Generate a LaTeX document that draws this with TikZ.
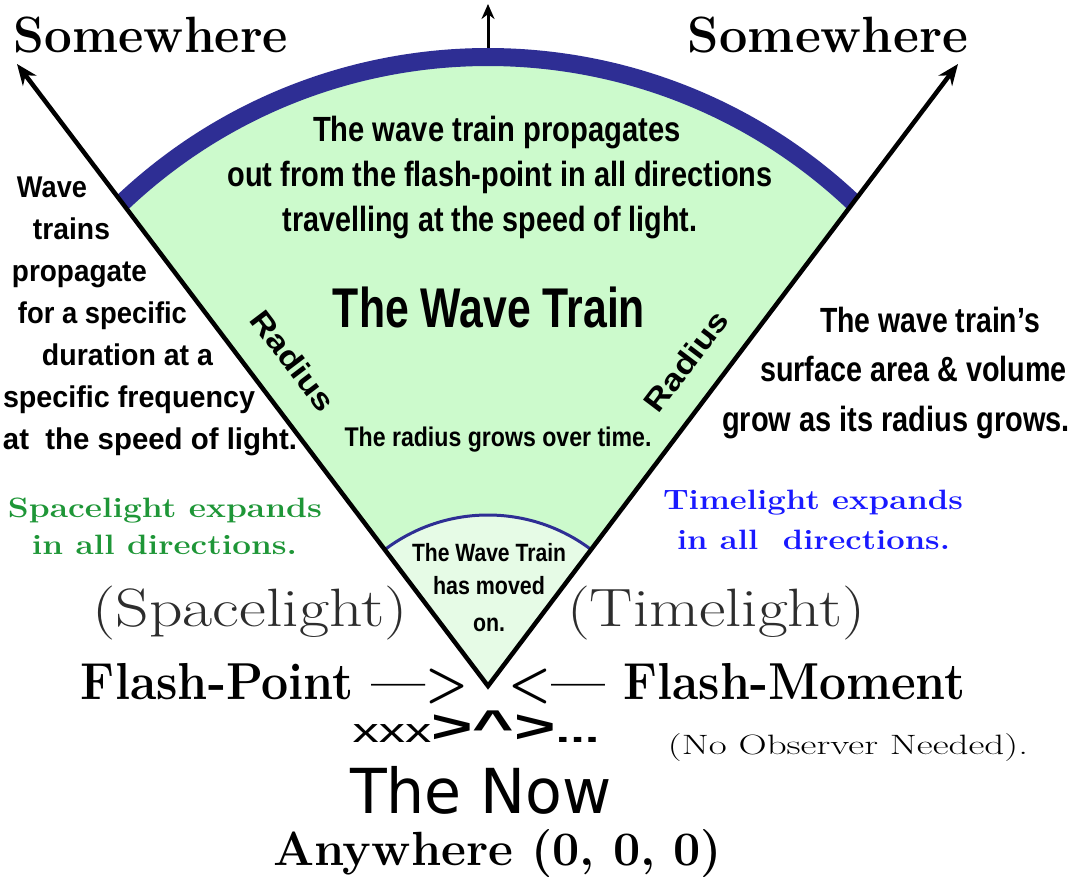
\documentclass[tikz,border=0pt]{standalone}
\usepackage{fontspec}
\usepackage{graphicx}
\usetikzlibrary{arrows.meta}
\newfontfamily\condf{Liberation Sans}
\newfontfamily\nowf{DejaVu Sans}
\definecolor{wedge}{RGB}{204,250,204}
\definecolor{wedgein}{RGB}{230,251,230}
\definecolor{arcblue}{RGB}{46,46,148}
\definecolor{spgreen}{RGB}{30,150,55}
\definecolor{tlblue}{RGB}{25,25,255}
\definecolor{parengray}{RGB}{45,45,45}
\newcommand{\fs}[1]{\fontsize{#1}{#1}\selectfont}
\newcommand{\fw}[2]{\resizebox{#1pt}{\height}{#2}}
\begin{document}
\begin{tikzpicture}[x=1pt,y=1pt,
  lbl/.style={inner sep=0pt, outer sep=0pt, anchor=base},
  cond/.style={lbl, font=\condf\bfseries\fs{#1}},
  serifb/.style={lbl, font=\bfseries\fs{#1}},
  serifr/.style={lbl, font=\fs{#1}},
  cone/.style={line width=4.5pt, line join=miter, {Stealth[length=21pt,width=17pt]}-{Stealth[length=21pt,width=17pt]}},
  uparrow/.style={line width=3pt, -{Stealth[length=15pt,width=13pt]}},
  bigarc/.style={arcblue, line width=18pt},
  smallarc/.style={arcblue, line width=3pt}]
\fill[white] (0,0) rectangle (1073,886);
\useasboundingbox (0,0) rectangle (1073,886);
% geometry
\coordinate (apex) at (488,200);
\coordinate (ltip) at (17,822);
\coordinate (rtip) at (958,822);
\coordinate (arcL) at (121.8,682.9);
\coordinate (arcTop) at (488,838);
\coordinate (upTip) at (488,882);
% wedge
\fill[wedge] (apex) -- (arcL) arc[start angle=133.5, end angle=46.5, radius=532] -- cycle;
\fill[wedgein] (apex) -- ++(127.14:171) arc[start angle=127.14, end angle=52.86, radius=171] -- cycle;
\draw[smallarc] (apex) ++(127.14:171) arc[start angle=127.14, end angle=52.86, radius=171];
\draw[bigarc] (arcL) arc[start angle=133.5, end angle=46.5, radius=532];
\draw[cone] (ltip) -- (apex) -- (rtip);
\draw[uparrow] (arcTop) -- (upTip);
% Somewhere
\node[serifb=51] (swL) at (151,833) {\fw{274}{Somewhere}};
\node[serifb=51] (swR) at (828,833) {\fw{280}{Somewhere}};
% top paragraph
\node[cond=35] (top1) at (497,744) {\fw{368}{The wave train propagates}};
\node[cond=35] (top2) at (500,699) {\fw{545}{out from the flash-point in all directions}};
\node[cond=35] (top3) at (490,654) {\fw{415}{travelling at the speed of light.}};
\node[cond=56] (wt) at (489,558) {\fw{312}{The Wave Train}};
\node[cond=30, anchor=center, rotate=-52.86] (radL) at (293,525) {\fw{118}{Radius}};
\node[cond=30, anchor=center, rotate=52.86] (radR) at (686,525) {\fw{118}{Radius}};
\node[cond=27] (grows) at (498,439) {\fw{307}{The radius grows over time.}};
\node[cond=25] (mv1) at (489,324) {\fw{154}{The Wave Train}};
\node[cond=25] (mv2) at (489,291) {\fw{112}{has moved}};
\node[cond=25] (mv3) at (489,254) {\fw{32}{on.}};
% left paragraph
\node[cond=30] (lp1) at (52,688) {\fw{70}{Wave}};
\node[cond=30] (lp2) at (71.5,646) {\fw{77}{trains}};
\node[cond=30] (lp3) at (79.5,604) {\fw{135}{propagate}};
\node[cond=30] (lp4) at (102.5,562) {\fw{169}{for a specific}};
\node[cond=30] (lp5) at (127.5,520) {\fw{171}{duration at a}};
\node[cond=30] (lp6) at (129,478) {\fw{252}{specific frequency}};
\node[cond=30] (lp7) at (150,436) {\fw{294}{at\ \ the speed of light.}};
% right paragraph
\node[cond=35] (rp1) at (930,553) {\fw{220}{The wave train’s}};
\node[cond=35] (rp2) at (913.5,504) {\fw{307}{surface area \& volume}};
\node[cond=35] (rp3) at (896,454) {\fw{348}{grow as its radius grows.}};
% green and blue
\node[serifb=28, text=spgreen] (gr1) at (165,368) {\fw{314}{Spacelight expands}};
\node[serifb=28, text=spgreen] (gr2) at (164.5,331) {\fw{265}{in all directions.}};
\node[serifb=28, text=tlblue] (bl1) at (813,376) {\fw{300}{Timelight expands}};
\node[serifb=28, text=tlblue] (bl2) at (813.5,336) {\fw{273}{in all\ \ directions.}};
% parenthesised
\node[serifr=54, text=parengray] (spl) at (250,259) {\fw{315}{(Spacelight)}};
\node[serifr=54, text=parengray] (tml) at (716,259) {\fw{298}{(Timelight)}};
% flash
\node[serifb=52] (fp) at (275,186) {\fw{388}{Flash-Point —>}};
\node[serifb=52] (fm) at (737,186) {\fw{457}{<— Flash-Moment}};
\node[lbl] (xxx) at (476,143) {\fw{247}{{\condf\fs{34}xxx}{\condf\bfseries\fs{46}>\textasciicircum>}{\condf\bfseries\fs{34}...}}};
\node[serifr=28] (nob) at (848,131) {\fw{360}{(No Observer Needed).}};
\node[lbl, font=\nowf\fs{62}] (now) at (481,73) {\fw{262}{The Now}};
\node[serifb=48] (any) at (497.5,21) {\fw{449}{Anywhere (0, 0, 0)}};
\end{tikzpicture}
\end{document}
